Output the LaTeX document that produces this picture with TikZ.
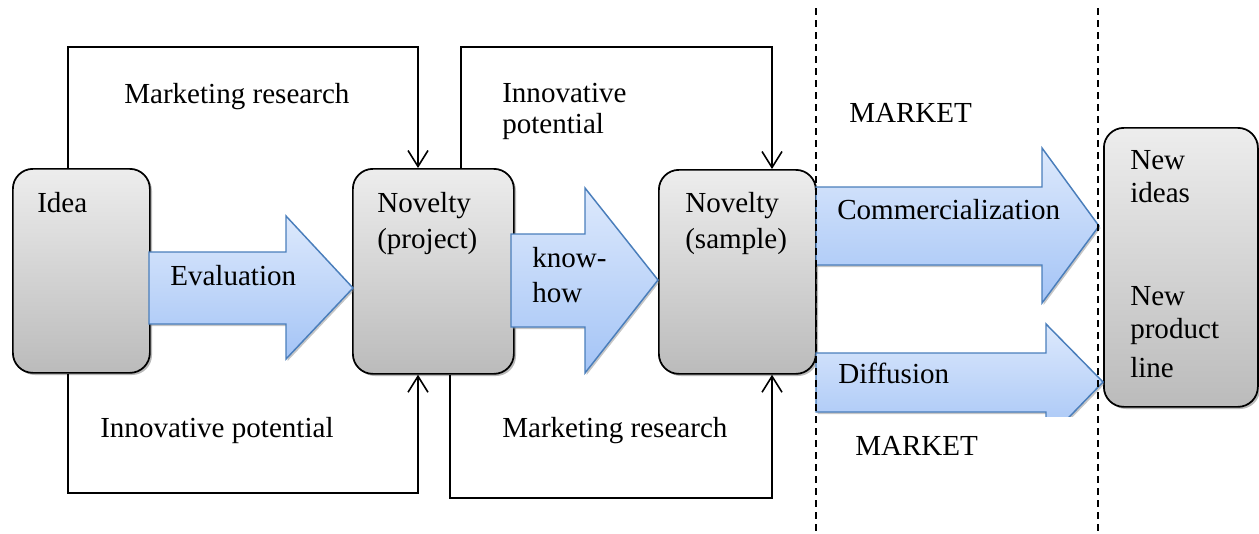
\documentclass[tikz,border=0pt]{standalone}
\usepackage{fontspec}
\setmainfont{Liberation Serif}
\usetikzlibrary{arrows.meta,shadows}
\definecolor{boxtop}{HTML}{EDEDED}
\definecolor{boxbot}{HTML}{BBBBBB}
\definecolor{arrtop}{HTML}{DDE9FC}
\definecolor{arrbot}{HTML}{A4C4F6}
\definecolor{arrline}{HTML}{4A7EBB}
\begin{document}
\begin{tikzpicture}[x=0.75pt,y=-0.75pt,
  every node/.style={font=\fontsize{21.8}{26}\selectfont},
  txt/.style={anchor=base west,inner sep=0pt},
  stagebox/.style={draw=black,line width=1.3pt,rounded corners=15pt,
    top color=boxtop,bottom color=boxbot,anchor=north west,inner sep=0pt,
    drop shadow={shadow xshift=1.6pt,shadow yshift=-1.6pt,fill=black!55,opacity=.5}},
  blockarrow/.style={draw=arrline,line width=1.1pt,top color=arrtop,bottom color=arrbot,
    drop shadow={shadow xshift=1.2pt,shadow yshift=-1.5pt,fill=black!50,opacity=.45}},
  fb/.style={draw=black,line width=1.2pt},
  fbarrow/.style={fb,-{Straight Barb[length=12pt,width=15pt,line width=1.2pt]}},
  mkline/.style={draw=black,line width=0.9pt,dash pattern=on 5.25pt off 3.75pt}]
\useasboundingbox (0,0) rectangle (1259,533);

% stage boxes
\node[stagebox,minimum width=102.75pt,minimum height=153pt] (idea) at (12,168) {};
\node[stagebox,minimum width=120.75pt,minimum height=153.75pt] (novp) at (352,168) {};
\node[stagebox,minimum width=117.75pt,minimum height=153pt] (novs) at (658,169) {};
\node[stagebox,minimum width=115.5pt,minimum height=209.25pt] (newb) at (1103,127) {};

% block arrows
\path[blockarrow] (149,252) -- (286,252) -- (286,216) -- (353,288) -- (286,359) -- (286,324) -- (149,324) -- cycle;
\path[blockarrow] (511,234) -- (585,234) -- (585,188) -- (658,280) -- (585,373) -- (585,327) -- (511,327) -- cycle;
\path[blockarrow] (816,187) -- (1042,187) -- (1042,148) -- (1099,226) -- (1042,303) -- (1042,265) -- (816,265) -- cycle;
\begin{scope}
  \clip (800,300) rectangle (1120,416);
  \path[blockarrow] (816,353) -- (1046,353) -- (1046,324) -- (1103,382) -- (1046,441) -- (1046,412) -- (816,412) -- cycle;
\end{scope}

% market boundaries
\coordinate (d1t) at (816,8);
\coordinate (d1b) at (816,533);
\coordinate (d2t) at (1098,8);
\coordinate (d2b) at (1098,533);
\draw[mkline] (d1t) -- (d1b);
\draw[mkline] (d2t) -- (d2b);

% feedback loops
\coordinate (t1l) at (68,47);
\coordinate (t1r) at (418,47);
\coordinate (t2l) at (461,47);
\coordinate (t2r) at (772,47);
\coordinate (b1l) at (68,493);
\coordinate (b1r) at (418,493);
\coordinate (b2l) at (450,498);
\coordinate (b2r) at (772,498);
\draw[fbarrow] (t1l |- idea.north) -- (t1l) -- (t1r) -- (t1r |- novp.north);
\draw[fbarrow] (t2l |- novp.north) -- (t2l) -- (t2r) -- (t2r |- novs.north);
\draw[fbarrow] (b1l |- idea.south) -- (b1l) -- (b1r) -- (b1r |- novp.south);
\draw[fbarrow] (b2l |- novp.south) -- (b2l) -- (b2r) -- (b2r |- novs.south);

% texts
\node[txt] (tidea) at (37,212) {Idea};
\node[txt] (tnp1) at (377,212) {Novelty};
\node[txt] (tnp2) at (377,248) {(project)};
\node[txt] (tns1) at (685,212) {Novelty};
\node[txt] (tns2) at (685,248) {(sample)};
\node[txt] (tnew1) at (1130,169) {New};
\node[txt] (tnew2) at (1130,202) {ideas};
\node[txt] (tnew3) at (1130,305) {New};
\node[txt] (tnew4) at (1130,338) {product};
\node[txt] (tnew5) at (1130,377) {line};
\node[txt] (teval) at (170,285) {Evaluation};
\node[txt] (tkh1) at (532,267) {know-};
\node[txt] (tkh2) at (532,302) {how};
\node[txt] (tcom) at (837,219) {Commercialization};
\node[txt] (tdif) at (838,383) {Diffusion};
\node[txt] (tmk1) at (849,122) {MARKET};
\node[txt] (tmk2) at (855,455) {MARKET};
\node[txt] (tmr1) at (124,103) {Marketing research};
\node[txt] (tip1) at (502,102) {Innovative};
\node[txt] (tip2) at (502,133) {potential};
\node[txt] (tip3) at (100,437) {Innovative potential};
\node[txt] (tmr2) at (502,437) {Marketing research};
\end{tikzpicture}
\end{document}
